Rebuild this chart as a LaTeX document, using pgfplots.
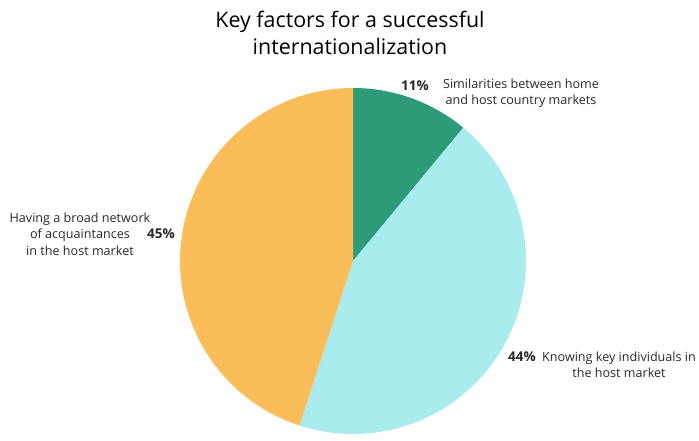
\documentclass[border=0pt]{standalone}
\usepackage{pgfplots}
\pgfplotsset{compat=1.18}
\usepackage{fontspec}
\setmainfont{Open Sans}
\definecolor{cgreen}{RGB}{46,155,120}
\definecolor{ccyan}{RGB}{168,236,238}
\definecolor{corange}{RGB}{251,189,90}
\definecolor{ctext}{RGB}{40,40,40}
% shares in percent
\def\pA{11}\def\pB{44}\def\pC{45}
\pgfmathsetmacro{\aZ}{90}
\pgfmathsetmacro{\aA}{\aZ-3.6*\pA}
\pgfmathsetmacro{\aB}{\aA-3.6*\pB}
\pgfmathsetmacro{\aC}{\aB-3.6*\pC}
\def\cx{353}\def\cy{-261}\def\R{173}
\begin{document}
\begin{tikzpicture}
\begin{axis}[
  width=699bp, height=441bp, scale only axis,
  xmin=0, xmax=699, ymin=-441, ymax=0,
  hide axis, clip=false,
]
\addplot[fill=cgreen, draw=none, domain=\aA:\aZ, samples=80, variable=\t]
  ({\cx+\R*cos(\t)},{\cy+\R*sin(\t)}) -- (axis cs:\cx,\cy) -- cycle;
\addplot[fill=ccyan, draw=none, domain=\aB:\aA, samples=120, variable=\t]
  ({\cx+\R*cos(\t)},{\cy+\R*sin(\t)}) -- (axis cs:\cx,\cy) -- cycle;
\addplot[fill=corange, draw=none, domain=\aC:\aB, samples=120, variable=\t]
  ({\cx+\R*cos(\t)},{\cy+\R*sin(\t)}) -- (axis cs:\cx,\cy) -- cycle;

\node[align=center, font=\fontsize{21.4bp}{27bp}\selectfont, text=black] at (axis cs:350,-33)
  {Key factors for a successful\\internationalization};

\node[font=\fontsize{13.5bp}{15bp}\selectfont\bfseries, text=ctext] at (axis cs:415,-86) {\pA\%};
\node[align=center, font=\fontsize{12.6bp}{15.5bp}\selectfont, text=ctext] at (axis cs:521,-93)
  {Similarities between home\\and host country markets};

\node[font=\fontsize{13.5bp}{15bp}\selectfont\bfseries, text=ctext] at (axis cs:161,-234) {\pC\%};
\node[align=center, font=\fontsize{12.6bp}{16.5bp}\selectfont, text=ctext] at (axis cs:80,-234)
  {Having a broad network\\of acquaintances\\in the host market};

\node[font=\fontsize{13.5bp}{15bp}\selectfont\bfseries, text=ctext] at (axis cs:522,-357) {\pB\%};
\node[align=center, font=\fontsize{12.6bp}{16bp}\selectfont, text=ctext] at (axis cs:619,-365)
  {Knowing key individuals in\\the host market};
\end{axis}
\pgfresetboundingbox
\path (current axis.south west) rectangle (current axis.north east);
\end{tikzpicture}
\end{document}
